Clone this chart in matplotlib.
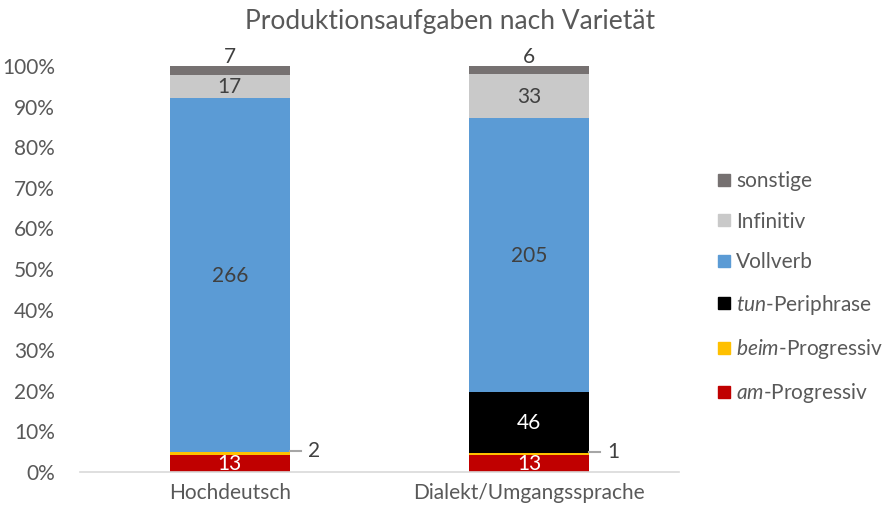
import matplotlib
matplotlib.use("Agg")
import matplotlib.pyplot as plt
import numpy as np
from matplotlib.ticker import PercentFormatter
from matplotlib.lines import Line2D

plt.rcParams['font.family'] = ['Lato', 'DejaVu Sans']
plt.rcParams['mathtext.fontset'] = 'custom'
plt.rcParams['mathtext.rm'] = 'Lato'
plt.rcParams['mathtext.it'] = 'Lato:italic'

categories = ["Hochdeutsch", "Dialekt/Umgangssprache"]
series_names = ["am-Progressiv", "beim-Progressiv", "tun-Periphrase", "Vollverb", "Infinitiv", "sonstige"]
legend_labels = [r"$\mathit{am}$-Progressiv", r"$\mathit{beim}$-Progressiv", r"$\mathit{tun}$-Periphrase",
                 "Vollverb", "Infinitiv", "sonstige"]
am = [13, 13]
beim = [2, 1]
tun = [0, 46]
vollverb = [266, 205]
infinitiv = [17, 33]
sonstige = [7, 6]
colors = ["#C00000", "#FFC000", "#000000", "#5B9BD5", "#C9C9C9", "#767171"]
label_colors = ["white", None, "white", "#404040", "#404040", "#404040"]

FS = 15
data = np.array([am, beim, tun, vollverb, infinitiv, sonstige], dtype=float)
totals = data.sum(axis=0)
frac = data / totals

fig = plt.figure(figsize=(8.91, 5.15), dpi=100)
ax = fig.add_axes([0.0898, 0.0835, 0.672, 0.7885])
x = np.arange(len(categories))
width = 0.4
bottom = np.zeros(len(categories))
for i in range(len(series_names)):
    ax.bar(x, frac[i], width, bottom=bottom, color=colors[i], edgecolor='none')
    for j in range(len(categories)):
        v = data[i, j]
        if v == 0:
            continue
        yc = bottom[j] + frac[i, j] / 2
        if series_names[i] == "beim-Progressiv":
            ax.plot([x[j] + width / 2, x[j] + width / 2 + 0.037], [yc + 0.006, yc + 0.006],
                    color="#A6A6A6", lw=1.5)
            ax.text(x[j] + width / 2 + 0.06, yc + 0.006, f"{int(v)}", ha='left', va='center',
                    fontsize=FS, color="#404040")
        elif series_names[i] == "sonstige":
            ax.annotate(f"{int(v)}", (x[j], 1.0), xytext=(0, -1), textcoords='offset points',
                        ha='center', va='bottom', fontsize=FS, color="#404040")
        else:
            ax.text(x[j], yc - 0.002, f"{int(v)}", ha='center', va='center', fontsize=FS,
                    color=label_colors[i])
    bottom += frac[i]

ax.set_xlim(-0.5, 1.5)
ax.set_ylim(0, 1.0)
ax.set_yticks(np.linspace(0, 1, 11))
ax.yaxis.set_major_formatter(PercentFormatter(1.0, decimals=0))
ax.set_xticks(x)
ax.set_xticklabels(categories)
for s in ['top', 'right', 'left']:
    ax.spines[s].set_visible(False)
ax.spines['bottom'].set_color('#D9D9D9')
ax.spines['bottom'].set_linewidth(1.2)
ax.tick_params(axis='both', length=0, labelsize=FS, colors='#595959')
ax.tick_params(axis='y', pad=18)
ax.tick_params(axis='x', pad=8)

fig.text(0.505, 0.958, "Produktionsaufgaben nach Varietät", ha='center', va='center',
         fontsize=19, color='#595959')

handles = [Line2D([], [], marker='s', linestyle='none', markersize=8, color=colors[i])
           for i in range(len(series_names))][::-1]
leg = fig.legend(handles, legend_labels[::-1], loc='center left', bbox_to_anchor=(0.782, 0.44),
                 frameon=False, fontsize=FS, labelspacing=0.98, handletextpad=0.2,
                 handlelength=0.8, labelcolor='#595959')

fig.savefig("out.png", dpi=100)
